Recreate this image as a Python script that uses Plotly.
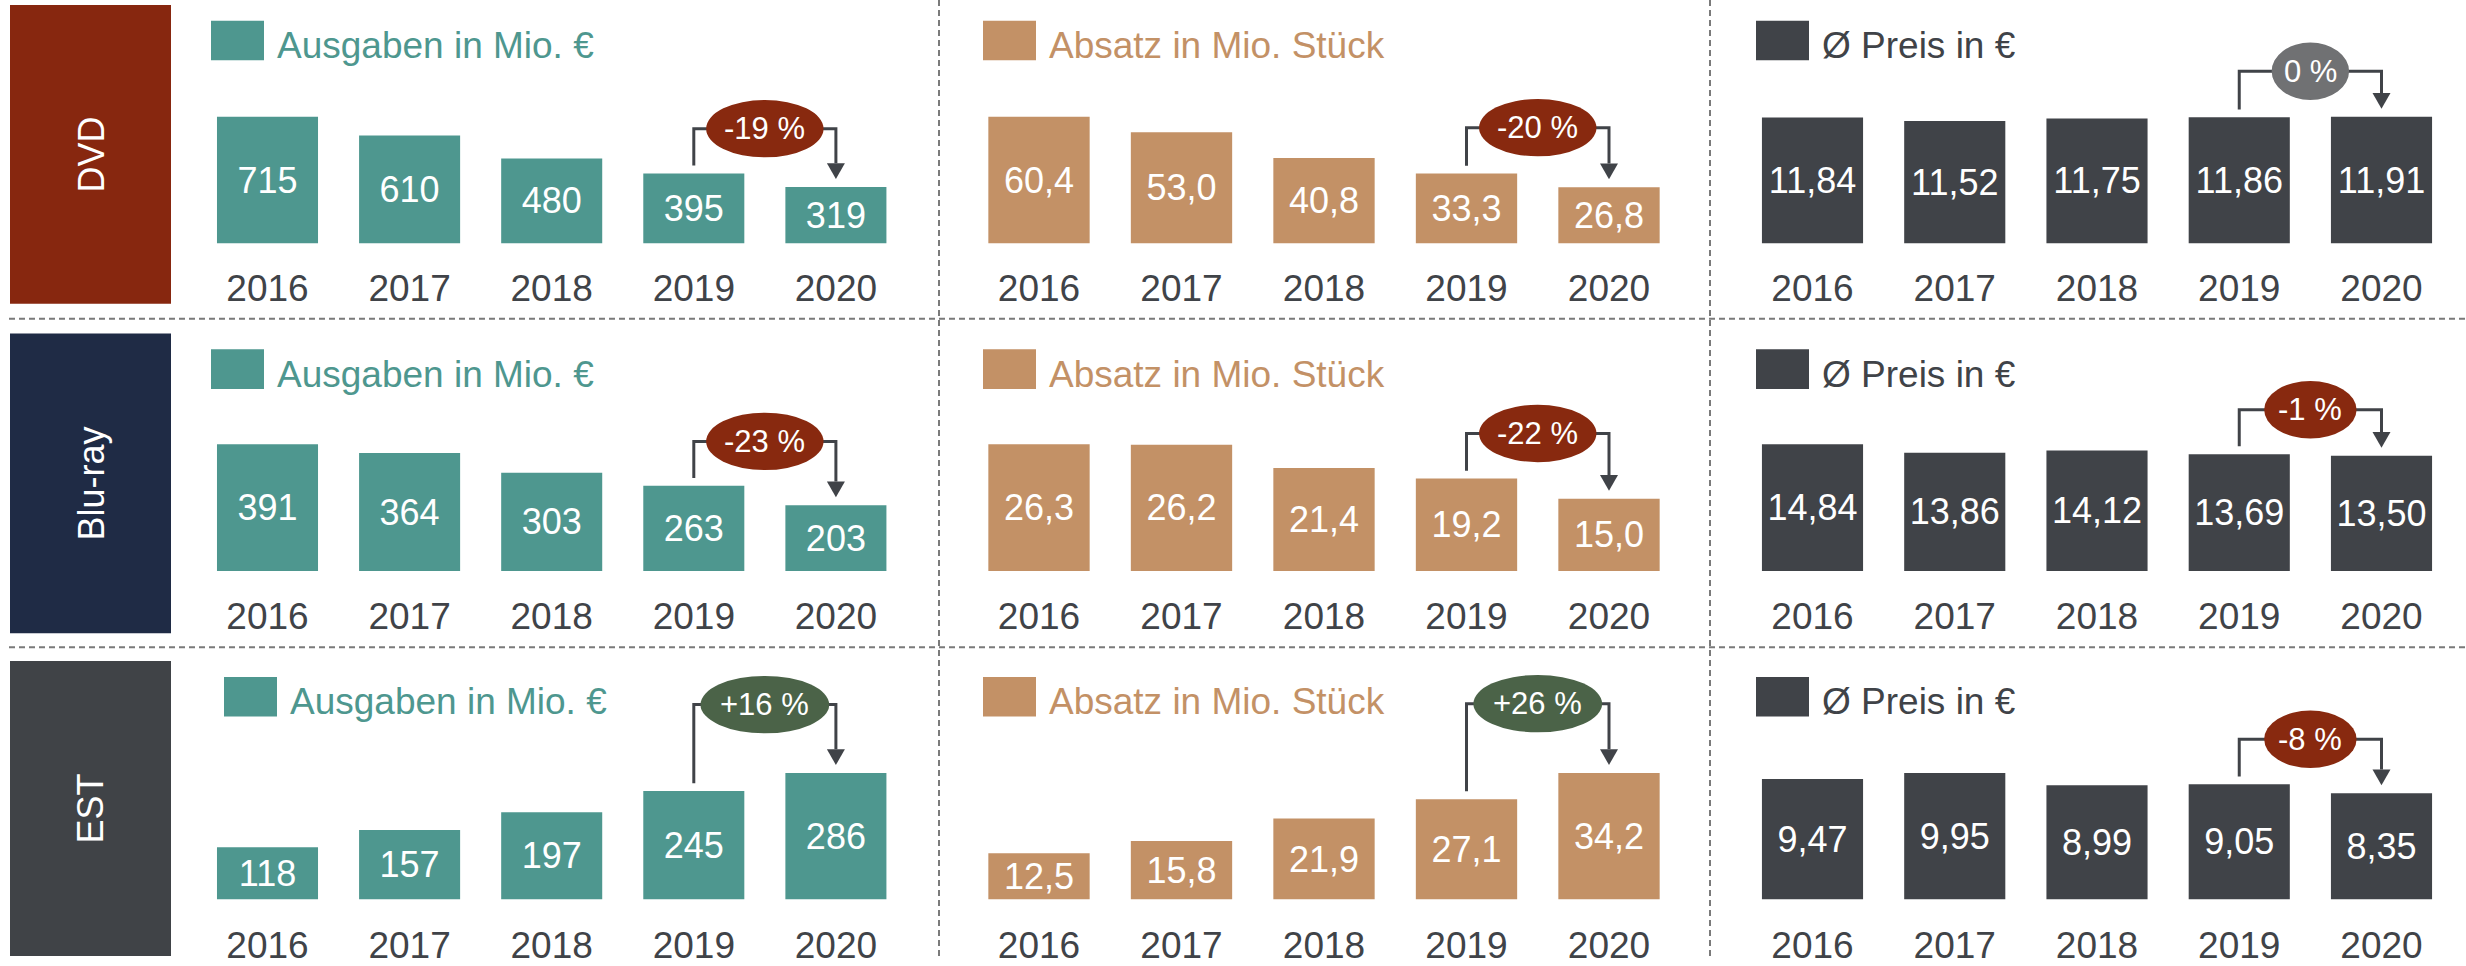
import plotly.graph_objects as go

# ---------------------------------------------------------------- data
years = ["2016", "2017", "2018", "2019", "2020"]
formats = ["DVD", "Blu-ray", "EST"]
metrics = ["Ausgaben in Mio. €", "Absatz in Mio. Stück", "Ø Preis in €"]

dvd_ausgaben = [715, 610, 480, 395, 319]
dvd_absatz = [60.4, 53.0, 40.8, 33.3, 26.8]
dvd_preis = [11.84, 11.52, 11.75, 11.86, 11.91]

bluray_ausgaben = [391, 364, 303, 263, 203]
bluray_absatz = [26.3, 26.2, 21.4, 19.2, 15.0]
bluray_preis = [14.84, 13.86, 14.12, 13.69, 13.50]

est_ausgaben = [118, 157, 197, 245, 286]
est_absatz = [12.5, 15.8, 21.9, 27.1, 34.2]
est_preis = [9.47, 9.95, 8.99, 9.05, 8.35]

# change 2019 -> 2020 in percent (Ausgaben, Absatz, Preis)
dvd_change = [-19, -20, 0]
bluray_change = [-23, -22, -1]
est_change = [16, 26, -8]

values = [
    [dvd_ausgaben, dvd_absatz, dvd_preis],
    [bluray_ausgaben, bluray_absatz, bluray_preis],
    [est_ausgaben, est_absatz, est_preis],
]
changes = [dvd_change, bluray_change, est_change]
decimals = [0, 1, 2]

# ---------------------------------------------------------------- style
W, H = 2466, 966
FONT = "Liberation Sans, Arial, sans-serif"
DARK = "#404348"
metric_colors = ["#4e978f", "#c39166", "#404348"]
format_colors = ["#87270f", "#1f2b45", "#404347"]
CHANGE_NEG, CHANGE_ZERO, CHANGE_POS = "#88290f", "#707173", "#4b6348"
BUBBLE_FONT = 31

row_base = [246, 577, 909]            # pixel y of bar baselines
row_box = [(5, 307), (337, 640), (668, 966)]
col_first = [267.5, 1039.0, 1812.5]   # pixel x of first bar centre
col_pitch = [142.1, 142.5, 142.25]
BAR_MAX_PX = 128                      # tallest bar of each panel
DOMAIN_PX = 240
bracket_px = [[116, 117, 174], [131, 139, 163], [197, 198, 162]]
legend_left = [[211, 983, 1756], [211, 983, 1756], [224, 983, 1756]]
legend_top = [21, 353, 684]

char_w = {"-": 0.333, "+": 0.584, " ": 0.278, "%": 0.889}


def px_x(px):
    return px / W


def px_y(py):
    return 1 - py / H


def fmt(v, d):
    return f"{v:.{d}f}".replace(".", ",")


def change_text(c):
    if c > 0:
        return f"+{c} %"
    return f"{c} %"


fig = go.Figure()
shapes = []
annotations = []
layout_axes = {}

for r in range(3):
    for c in range(3):
        k = r * 3 + c + 1
        xa = "x" if k == 1 else f"x{k}"
        ya = "y" if k == 1 else f"y{k}"
        xkey = "xaxis" if k == 1 else f"xaxis{k}"
        ykey = "yaxis" if k == 1 else f"yaxis{k}"
        vals = values[r][c]
        vmax = max(vals)
        p = col_pitch[c]
        x0 = col_first[c] - 0.5 * p
        x1 = col_first[c] + 4.5 * p
        base = row_base[r]
        layout_axes[xkey] = dict(
            domain=[px_x(x0), px_x(x1)], range=[-0.5, 4.5], anchor=ya,
            tickvals=list(range(5)), ticktext=years, ticks="",
            showgrid=False, zeroline=False, showline=False,
            tickfont=dict(size=37, color=DARK, family=FONT),
            ticklabelstandoff=20, fixedrange=True,
        )
        layout_axes[ykey] = dict(
            domain=[px_y(base), px_y(base - DOMAIN_PX)],
            range=[0, vmax * DOMAIN_PX / BAR_MAX_PX], anchor=xa,
            visible=False, fixedrange=True,
        )
        fig.add_trace(go.Bar(
            x=list(range(5)), y=vals, xaxis=xa, yaxis=ya,
            width=0.711, marker=dict(color=metric_colors[c], line=dict(width=0)),
            text=[fmt(v, decimals[c]) for v in vals],
            textposition="inside", insidetextanchor="middle",
            constraintext="none",
            textfont=dict(size=36, color="white", family=FONT),
            hoverinfo="skip", showlegend=False,
        ))

        # bracket 2019 -> 2020 with change bubble
        u = vmax / BAR_MAX_PX          # data units per pixel
        ux = 1 / p
        h = bracket_px[r][c] * u
        v19, v20 = vals[3], vals[4]
        tip = v20 + 8 * u
        path = (f"M 3,{v19 + 8 * u} L 3,{h} L 4,{h} L 4,{tip + 16 * u}")
        shapes.append(dict(type="path", xref=xa, yref=ya, path=path,
                           line=dict(color=DARK, width=3)))
        shapes.append(dict(
            type="path", xref=xa, yref=ya,
            path=(f"M {4 - 9 * ux},{tip + 16 * u} L {4 + 9 * ux},{tip + 16 * u} "
                  f"L 4,{tip} Z"),
            fillcolor=DARK, line=dict(width=0)))
        ch = changes[r][c]
        txt = change_text(ch)
        tw = sum(char_w.get(ch_, 0.556) for ch_ in txt) * BUBBLE_FONT
        ew = 1.45 * tw
        col = CHANGE_NEG if ch < 0 else (CHANGE_POS if ch > 0 else CHANGE_ZERO)
        shapes.append(dict(
            type="circle", xref=xa, yref=ya,
            x0=3.5 - ew / 2 * ux, x1=3.5 + ew / 2 * ux,
            y0=h - 29 * u, y1=h + 29 * u,
            fillcolor=col, line=dict(width=0)))
        annotations.append(dict(
            x=3.5, y=h, xref=xa, yref=ya, text=txt, showarrow=False,
            xanchor="center", yanchor="middle",
            font=dict(size=BUBBLE_FONT, color="white", family=FONT)))

        # legend square + label
        lx = legend_left[r][c]
        lt = legend_top[r]
        shapes.append(dict(
            type="rect", xref="paper", yref="paper",
            x0=px_x(lx), x1=px_x(lx + 53), y0=px_y(lt + 40), y1=px_y(lt),
            fillcolor=metric_colors[c], line=dict(width=0)))
        annotations.append(dict(
            x=px_x(lx + 64), y=px_y(lt + 25), xref="paper", yref="paper",
            text=metrics[c], showarrow=False, xanchor="left", yanchor="middle",
            font=dict(size=37, color=metric_colors[c], family=FONT)))

# row label boxes
for r in range(3):
    top, bot = row_box[r]
    shapes.append(dict(
        type="rect", xref="paper", yref="paper",
        x0=px_x(10), x1=px_x(171), y0=px_y(bot), y1=px_y(top),
        fillcolor=format_colors[r], line=dict(width=0), layer="below"))
    annotations.append(dict(
        x=px_x(91), y=px_y((top + bot) / 2), xref="paper", yref="paper",
        text=formats[r], textangle=-90, showarrow=False,
        xanchor="center", yanchor="middle",
        font=dict(size=36, color="white", family=FONT)))

# dashed separators
SEP = dict(color="#7a7a7a", width=2, dash="6px,4px")
for yy in (322, 654):
    shapes.append(dict(type="line", xref="paper", yref="paper",
                       x0=px_x(9), x1=1, y0=px_y(yy), y1=px_y(yy), line=SEP))
for xx in (939, 1710):
    shapes.append(dict(type="line", xref="paper", yref="paper",
                       x0=px_x(xx), x1=px_x(xx), y0=0, y1=1, line=SEP))

fig.update_layout(
    width=W, height=H, margin=dict(l=0, r=0, t=0, b=0),
    paper_bgcolor="white", plot_bgcolor="rgba(0,0,0,0)",
    font=dict(family=FONT), bargap=0.289,
    shapes=shapes, annotations=annotations, showlegend=False,
    **layout_axes,
)

fig.write_html("out.html")
